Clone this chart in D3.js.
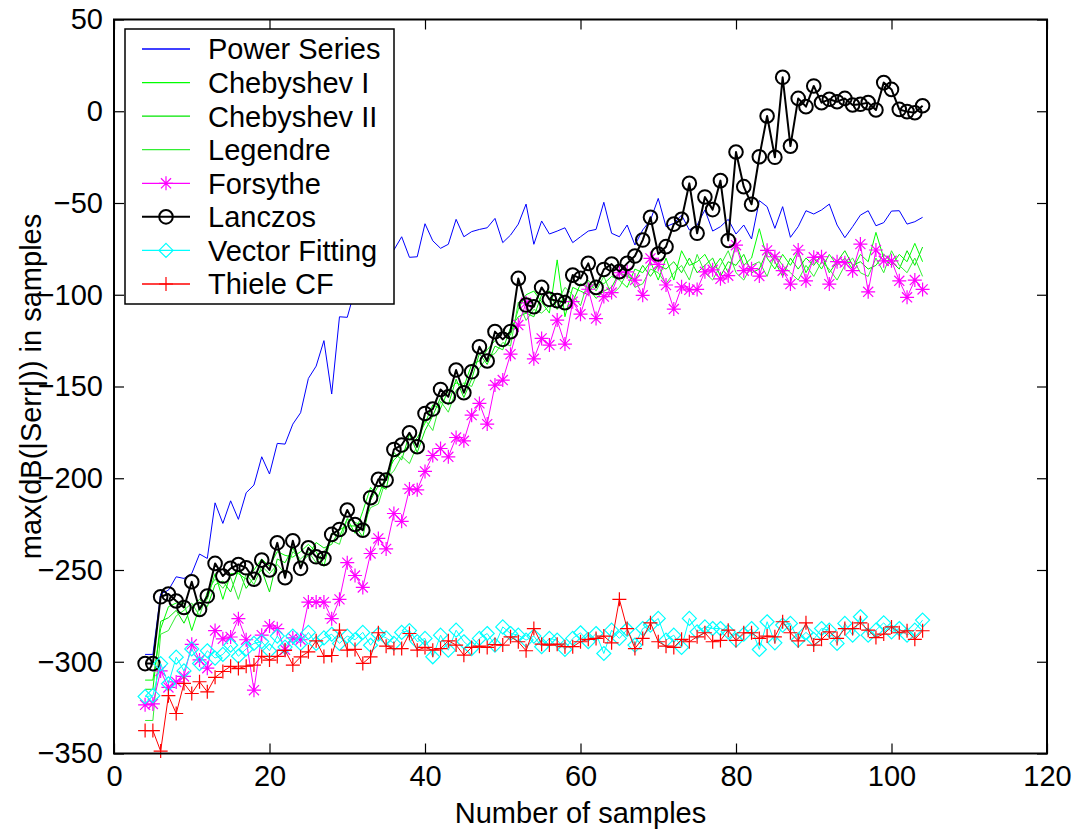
<!DOCTYPE html>
<html lang="en">
<head>
<meta charset="UTF-8">
<script src="https://cdn.jsdelivr.net/npm/d3@7"></script>
<style>
  body { margin: 0; background: #fff; }
  svg text { font-family: "Liberation Sans", Arial, Helvetica, sans-serif; fill: #000; }
</style>
</head>
<body>
<div id="fig"></div>
<script>
// sample counts on the x axis: 4 ... 104
const samples = d3.range(4, 105);

// values, one row per 10 samples (4-13, 14-23, ...)
const powerSeries = [
  -296,-296,-263,-261,-253.7,-254.6,-251.9,-241.3,-243.7,-213.4,
  -224.6,-212.3,-222.4,-207.9,-203.7,-188.3,-197.7,-181,-181.4,-170.5,
  -164.3,-145.6,-138.9,-125,-154.1,-112,-112.3,-97.1,-92,-85,
  -80,-72,-75.6,-68.4,-79.6,-79.3,-61.3,-70.6,-74.7,-72.5,
  -58.9,-68.4,-65.6,-64.4,-63.5,-58.4,-71.6,-67.5,-61.5,-50.6,
  -72.5,-59.8,-66.9,-65.3,-63.5,-71.6,-68.4,-65.3,-64.4,-49.6,
  -66.5,-68.4,-62,-72.9,-64.7,-59.3,-47.5,-62.9,-61.1,-56.6,
  -64.7,-62,-53.8,-65.3,-62.9,-58.9,-66.9,-62,-69.6,-48.7,
  -52,-63.8,-52,-68.7,-62.9,-54.2,-56,-53.8,-50.6,-62,
  -68.9,-62.9,-56.6,-54.2,-62.4,-60.7,-54.4,-54.2,-61.5,-60.2,
  -57.8];
const chebyshev1 = [
  -310,-310,-282,-270,-268,-268,-283,-270,-266,-252,
  -266,-252,-252,-255,-250,-244,-248,-240,-242,-243,
  -240,-236,-240,-248,-230,-232,-222,-230,-218,-205,
  -210,-198,-190,-186,-182,-178,-170,-160,-162,-152,
  -148,-150,-138,-136,-130,-125,-120,-122,-108,-100,
  -98,-104,-110,-81,-112,-96,-98,-100,-92,-94,
  -90,-92,-96,-86,-88,-82,-92,-80,-92,-76,
  -84,-82,-78,-86,-80,-88,-72,-84,-80,-64,
  -80,-86,-78,-84,-76,-88,-80,-86,-78,-84,
  -80,-86,-78,-82,-66,-80,-84,-78,-82,-72,
  -82];
const chebyshev2 = [
  -315,-315,-278,-276,-272,-279,-270,-266,-270,-258,
  -256,-262,-250,-260,-254,-250,-262,-244,-246,-238,
  -246,-242,-235,-238,-236,-228,-226,-226,-232,-212,
  -204,-206,-186,-190,-176,-186,-174,-166,-156,-160,
  -146,-156,-146,-132,-138,-128,-130,-118,-112,-110,
  -112,-100,-98,-108,-100,-104,-94,-96,-102,-98,
  -96,-88,-90,-92,-84,-90,-84,-86,-82,-88,
  -80,-88,-84,-80,-90,-82,-84,-78,-88,-86,
  -76,-82,-90,-80,-86,-80,-84,-78,-88,-82,
  -76,-84,-82,-86,-84,-78,-82,-86,-76,-84,
  -74];
const legendre = [
  -332,-332,-285,-283,-275,-272,-268,-275,-262,-255,
  -260,-254,-266,-252,-258,-248,-252,-247,-252,-240,
  -244,-240,-246,-240,-234,-236,-222,-224,-226,-216,
  -214,-200,-196,-188,-192,-182,-168,-174,-158,-164,
  -152,-148,-150,-140,-134,-132,-126,-128,-104,-114,
  -108,-110,-106,-104,-96,-100,-106,-92,-98,-90,
  -100,-96,-88,-96,-94,-86,-88,-94,-88,-84,
  -92,-78,-88,-92,-84,-76,-88,-92,-84,-82,
  -90,-78,-84,-88,-92,-84,-90,-82,-86,-92,
  -84,-80,-88,-90,-80,-88,-76,-84,-88,-80,
  -90];
const forsythe = [
  -323.5,-323,-305,-314,-311,-308,-290.5,-299,-303.5,-283,
  -287.5,-286.5,-276.5,-288,-315.5,-285.5,-280.5,-282,-293.5,-287,
  -288,-267.5,-267.5,-267.5,-276.5,-266,-246,-253,-259.5,-241,
  -232.8,-238.5,-219.2,-223.5,-205.8,-206.3,-196.3,-187.6,-183.8,-188.3,
  -177.8,-179.6,-165.6,-159.2,-170.5,-149.2,-146.5,-132.4,-116.5,-104.4,
  -134.9,-123.8,-127.4,-113.8,-126.9,-103.8,-110.6,-97,-113,-101,
  -98.8,-88,-87.5,-92,-100.3,-80.2,-83.5,-94.7,-107.8,-95.7,
  -97.3,-97.1,-87.5,-86.4,-91.3,-89.6,-73,-86.9,-85.8,-89.8,
  -75.8,-79.3,-86.9,-94.2,-75.6,-92.4,-79.6,-79.3,-94.2,-82,
  -82.5,-86.9,-72.4,-98.4,-75.6,-81.5,-81.5,-92.4,-101.4,-92,
  -97.1];
const lanczos = [
  -301,-301,-264.6,-263.1,-266.9,-270.4,-256.4,-271.5,-264.2,-246.4,
  -253.3,-249.1,-247,-248.8,-255,-244.6,-250,-235.2,-254.2,-234.1,
  -249.1,-237.9,-242.8,-243.7,-230.6,-227.9,-217.3,-225.2,-228.3,-210.6,
  -200.6,-201,-184.3,-181.9,-175.2,-182.8,-164.7,-162.3,-151.6,-155.6,
  -141,-153.4,-142,-128.3,-136.1,-120.1,-124.3,-120.1,-91.1,-105.6,
  -106.5,-96,-102.5,-103.2,-104.3,-89.3,-91.1,-82.9,-96,-86.2,
  -83.3,-87.4,-82.9,-78.9,-70.2,-57.8,-77.8,-73.8,-61.5,-58.9,
  -39.3,-66.5,-46.7,-53.6,-37.8,-70.4,-22.2,-41.1,-50.7,-24.8,
  -2.6,-25.1,18.5,-19,7,2.5,13.8,4.7,6.5,5.2,
  7,3.4,3.8,4.7,0.7,15.6,11.9,1,-0.2,-0.8,
  3];
const vectorFitting = [
  -319,-318.5,-301,-312,-297.5,-305,-293,-301,-294,-298,
  -296,-291,-297,-293,-290,-289,-294,-286,-292,-286,
  -290,-284,-290,-287,-285,-290,-286,-288,-284,-291,
  -285,-287,-290,-284,-283,-289,-287.3,-297.3,-285.5,-293.7,
  -282.8,-289.1,-292.8,-287.3,-284.6,-290.9,-281,-284.6,-285.5,-288.2,
  -286,-291.8,-287.3,-288.2,-293.3,-287.3,-284.2,-289.1,-284.6,-295.5,
  -282.8,-287.3,-282.4,-290.9,-281.9,-280,-276.4,-288.2,-285.5,-292.2,
  -276.4,-283.7,-281,-281.9,-281.9,-283.7,-288.2,-285,-281.9,-293.3,
  -278.2,-289.7,-280,-279.1,-288.2,-284,-287.8,-281.9,-282.8,-290,
  -279.1,-285.5,-275.5,-285.5,-282.8,-278.8,-283.7,-281.9,-285.5,-282.8,
  -277.3];
const thieleCF = [
  -337.5,-337.5,-348.7,-318.5,-328.2,-311.8,-317.3,-310.9,-316.4,-308.5,
  -305.3,-302.5,-303.7,-302.4,-301.8,-297.1,-299.1,-297.1,-293.8,-301.8,
  -297.3,-294.6,-288.6,-297.1,-296.6,-282.8,-293.7,-293.3,-300.9,-297.3,
  -284.2,-291.5,-292.8,-292.8,-284.6,-293.7,-292.2,-293.7,-292.8,-288.6,
  -290.9,-296.4,-292.2,-291.5,-292.2,-290.6,-290.9,-286.4,-289.1,-294,
  -281.9,-290.4,-290.9,-290.4,-291.8,-291.8,-289.1,-287.8,-287.3,-286,
  -289.7,-266,-281.9,-292.8,-287.3,-278.8,-289.1,-291.5,-292.2,-287.8,
  -289.1,-286.4,-284.2,-289.1,-288.4,-282.8,-288.4,-284.2,-284.2,-287.3,
  -286,-286.4,-278.2,-284.2,-288.6,-278.8,-290.9,-287.8,-283.7,-287.3,
  -281.9,-281.9,-278.8,-282.8,-286.8,-284.9,-281,-284.2,-283.1,-287.8,
  -283.1];

const seriesNames = ["Power Series","Chebyshev I","Chebyshev II","Legendre",
                     "Forsythe","Lanczos","Vector Fitting","Thiele CF"];
const xTicks = [0,20,40,60,80,100,120];
const yTicks = [-350,-300,-250,-200,-150,-100,-50,0,50];

// styling per series (plot order = legend order)
const series = [
  {values: powerSeries,   color: "#0000ff", lw: 1,   marker: null},
  {values: chebyshev1,    color: "#00ff00", lw: 1,   marker: null},
  {values: chebyshev2,    color: "#00e600", lw: 1,   marker: null},
  {values: legendre,      color: "#33ee33", lw: 1,   marker: null},
  {values: forsythe,      color: "#ff00ff", lw: 1,   marker: "star"},
  {values: lanczos,       color: "#000000", lw: 2,   marker: "circle"},
  {values: vectorFitting, color: "#00ffff", lw: 1,   marker: "diamond"},
  {values: thieleCF,      color: "#ff0000", lw: 1,   marker: "plus"}
].map((s, i) => ({...s, name: seriesNames[i]}));

const width = 1083, height = 837;
const plot = {left: 114, top: 19.5, right: 1047, bottom: 753.5};
const fontSize = 29;

const svg = d3.select("#fig").append("svg")
    .attr("width", width)
    .attr("height", height);

svg.append("rect").attr("width", width).attr("height", height).attr("fill", "#fff");

const x = d3.scaleLinear().domain([0, 120]).range([plot.left, plot.right]);
const y = d3.scaleLinear().domain([-350, 50]).range([plot.bottom, plot.top]);

function markerPath(type, r) {
  if (type === "star") {
    const k = r * 0.72;
    return `M${-r},0H${r}M0,${-r}V${r}M${-k},${-k}L${k},${k}M${-k},${k}L${k},${-k}`;
  }
  if (type === "diamond") return `M0,${-r}L${r},0L0,${r}L${-r},0Z`;
  if (type === "plus") return `M${-r},0H${r}M0,${-r}V${r}`;
  return "";
}

function drawMarkers(g, pts, s) {
  if (s.marker === "circle") {
    g.selectAll("circle.m").data(pts).join("circle")
      .attr("class", "m")
      .attr("cx", d => d[0]).attr("cy", d => d[1])
      .attr("r", 6.8)
      .attr("fill", "none").attr("stroke", s.color).attr("stroke-width", 2);
  } else if (s.marker) {
    const r = s.marker === "diamond" ? 7 : 7;
    g.selectAll("path.m").data(pts).join("path")
      .attr("class", "m")
      .attr("transform", d => `translate(${d[0]},${d[1]})`)
      .attr("d", markerPath(s.marker, r))
      .attr("fill", "none").attr("stroke", s.color).attr("stroke-width", 1.2);
  }
}

const line = d3.line().x(d => d[0]).y(d => d[1]);

const dataLayer = svg.append("g");
series.forEach(s => {
  const pts = samples.map((n, i) => [x(n), y(s.values[i])]);
  const g = dataLayer.append("g");
  g.append("path")
    .attr("d", line(pts))
    .attr("fill", "none")
    .attr("stroke", s.color)
    .attr("stroke-width", s.lw)
    .attr("stroke-linejoin", "round");
  drawMarkers(g, pts, s);
});

// axes, MATLAB style: ticks inside, on all four sides
const fmt = d3.format("");
svg.append("g")
    .attr("transform", `translate(0,${plot.bottom})`)
    .call(d3.axisBottom(x).tickValues(xTicks).tickFormat(fmt).tickSizeInner(-10).tickSizeOuter(0).tickPadding(12))
    .call(g => g.select(".domain").remove());
svg.append("g")
    .attr("transform", `translate(0,${plot.top})`)
    .call(d3.axisTop(x).tickValues(xTicks).tickFormat("").tickSizeInner(-10).tickSizeOuter(0))
    .call(g => g.select(".domain").remove());
svg.append("g")
    .attr("transform", `translate(${plot.left},0)`)
    .call(d3.axisLeft(y).tickValues(yTicks).tickFormat(fmt).tickSizeInner(-10).tickSizeOuter(0).tickPadding(11))
    .call(g => g.select(".domain").remove());
svg.append("g")
    .attr("transform", `translate(${plot.right},0)`)
    .call(d3.axisRight(y).tickValues(yTicks).tickFormat("").tickSizeInner(-10).tickSizeOuter(0))
    .call(g => g.select(".domain").remove());

svg.selectAll(".tick line").attr("stroke", "#000").attr("stroke-width", 1.2);
svg.selectAll(".tick text")
    .style("font-size", fontSize + "px")
    .style("font-family", '"Liberation Sans", Arial, sans-serif');

svg.append("rect")
    .attr("x", plot.left).attr("y", plot.top)
    .attr("width", plot.right - plot.left).attr("height", plot.bottom - plot.top)
    .attr("fill", "none").attr("stroke", "#000").attr("stroke-width", 2);

// axis titles
svg.append("text")
    .attr("x", (plot.left + plot.right) / 2).attr("y", 823)
    .attr("text-anchor", "middle")
    .style("font-size", fontSize + "px")
    .text("Number of samples");
svg.append("text")
    .attr("transform", `translate(41,${(plot.top + plot.bottom) / 2}) rotate(-90)`)
    .attr("text-anchor", "middle")
    .style("font-size", fontSize + "px")
    .text("max(dB(|Serr|)) in samples");

// legend
const leg = svg.append("g");
leg.append("rect")
    .attr("x", 125).attr("y", 29).attr("width", 269).attr("height", 275)
    .attr("fill", "#fff").attr("stroke", "#000").attr("stroke-width", 1.5);
const rowY = d3.scaleLinear().domain([0, 7]).range([49, 284]);
series.forEach((s, i) => {
  const g = leg.append("g");
  const yy = rowY(i);
  g.append("line")
    .attr("x1", 142).attr("x2", 190).attr("y1", yy).attr("y2", yy)
    .attr("stroke", s.color).attr("stroke-width", s.lw === 2 ? 2 : 1.3);
  drawMarkers(g, [[166, yy]], s);
  g.append("text")
    .attr("x", 208).attr("y", yy).attr("dy", "0.36em")
    .style("font-size", fontSize + "px")
    .text(s.name);
});
</script>
</body>
</html>
